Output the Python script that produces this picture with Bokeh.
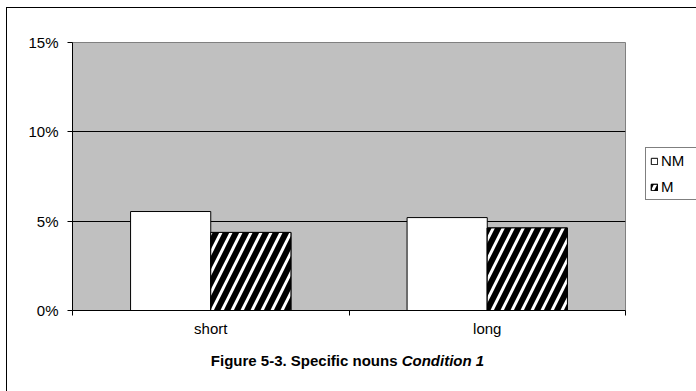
from bokeh.plotting import figure
from bokeh.models import (FactorRange, ColumnDataSource, LinearAxis, FixedTicker,
                          NumeralTickFormatter, Legend, LegendItem, Range1d, Div, Column, Row)
from bokeh.transform import dodge
from bokeh.embed import file_html
from bokeh.resources import INLINE

categories = ["short", "long"]
series_names = ["NM", "M"]
nm_values = [0.0554, 0.0520]
m_values = [0.0437, 0.0462]
y_ticks = [0, 0.05, 0.10, 0.15]
title_main = "Figure 5-3. Specific nouns "
title_italic = "Condition 1"
FONT = "Liberation Sans"

src = ColumnDataSource(dict(cat=categories, nm=nm_values, m=m_values))
bw = 0.29


def add_bars(fig):
    a = fig.vbar(x=dodge("cat", -bw / 2, range=fig.x_range), top="nm", width=bw, source=src,
                 fill_color="white", line_color="black", line_width=1)
    b = fig.vbar(x=dodge("cat", bw / 2, range=fig.x_range), top="m", width=bw, source=src,
                 fill_color="black", line_color="black", line_width=1)
    c = fig.vbar(x=dodge("cat", bw / 2, range=fig.x_range), top="m", width=bw, source=src,
                 fill_alpha=0, line_color="black", line_width=1,
                 hatch_pattern="/", hatch_color="white", hatch_scale=20, hatch_weight=3)
    return a, b, c


p = figure(width=638, height=337, x_range=FactorRange(factors=categories),
           y_range=Range1d(0, 0.15), output_backend="svg", toolbar_location=None,
           x_axis_location=None, y_axis_location=None,
           min_border_left=65, min_border_right=20, min_border_top=34, min_border_bottom=35)
p.background_fill_color = "#c0c0c0"
p.border_fill_color = "white"
p.outline_line_color = "#808080"
p.outline_line_width = 1

yaxis = LinearAxis(ticker=FixedTicker(ticks=y_ticks),
                   formatter=NumeralTickFormatter(format="0%"))
yaxis.axis_line_color = "black"
yaxis.major_tick_in = 0
yaxis.major_tick_out = 5
yaxis.minor_tick_line_color = None
yaxis.major_label_text_font = FONT
yaxis.major_label_text_font_size = "15px"
yaxis.major_label_text_color = "black"
yaxis.major_label_standoff = 9
p.add_layout(yaxis, "left")

xaxis = LinearAxis(ticker=FixedTicker(ticks=[0.5, 1.5], minor_ticks=[0, 1, 2]),
                   major_label_overrides={0.5: categories[0], 1.5: categories[1]})
xaxis.axis_line_color = "black"
xaxis.major_tick_line_color = None
xaxis.major_tick_in = 0
xaxis.major_tick_out = 0
xaxis.minor_tick_in = 0
xaxis.minor_tick_out = 5
xaxis.minor_tick_line_color = "black"
xaxis.major_label_text_font = FONT
xaxis.major_label_text_font_size = "15px"
xaxis.major_label_text_color = "black"
xaxis.major_label_standoff = 4
p.add_layout(xaxis, "below")

p.xgrid.visible = False
p.ygrid.ticker = FixedTicker(ticks=y_ticks)
p.ygrid.grid_line_color = "black"
p.ygrid.grid_line_width = 1

add_bars(p)

# legend panel: the same series (hidden) so that the legend can sit outside the plot area
pl = figure(width=51, height=337, x_range=FactorRange(factors=categories),
            y_range=Range1d(0, 0.15), output_backend="svg", toolbar_location=None,
            x_axis_location=None, y_axis_location=None,
            min_border_left=0, min_border_right=0, min_border_top=0, min_border_bottom=0)
pl.background_fill_color = "white"
pl.border_fill_color = "white"
pl.outline_line_color = None
pl.xgrid.visible = False
pl.ygrid.visible = False
l1, l2, l3 = add_bars(pl)
for r in (l1, l2, l3):
    r.visible = False

legend = Legend(items=[LegendItem(label=series_names[0], renderers=[l1]),
                       LegendItem(label=series_names[1], renderers=[l2, l3])],
                location=(0, 110))
legend.glyph_width = 8
legend.glyph_height = 8
legend.label_text_font = FONT
legend.label_text_font_size = "15px"
legend.label_text_color = "black"
legend.label_height = 17
legend.label_width = 38
legend.spacing = 9
legend.padding = 4
legend.margin = 0
legend.label_standoff = 3
legend.border_line_color = "black"
legend.border_line_width = 1
legend.background_fill_color = "white"
legend.background_fill_alpha = 1
pl.add_layout(legend)

title = Div(text=f"<b>{title_main}<i>{title_italic}</i></b>", width=689, height=46,
            styles={"font-family": FONT, "font-size": "15px", "text-align": "center",
                    "color": "black", "padding-top": "0px", "padding-right": "18px",
                    "box-sizing": "border-box"})

layout = Column(children=[Row(children=[p, pl], spacing=0), title], margin=(7, 0, 0, 6), spacing=0,
                styles={"border-left": "1px solid black", "border-top": "1px solid black",
                        "background-color": "white"})

open("out.html", "w").write(file_html(layout, INLINE))
